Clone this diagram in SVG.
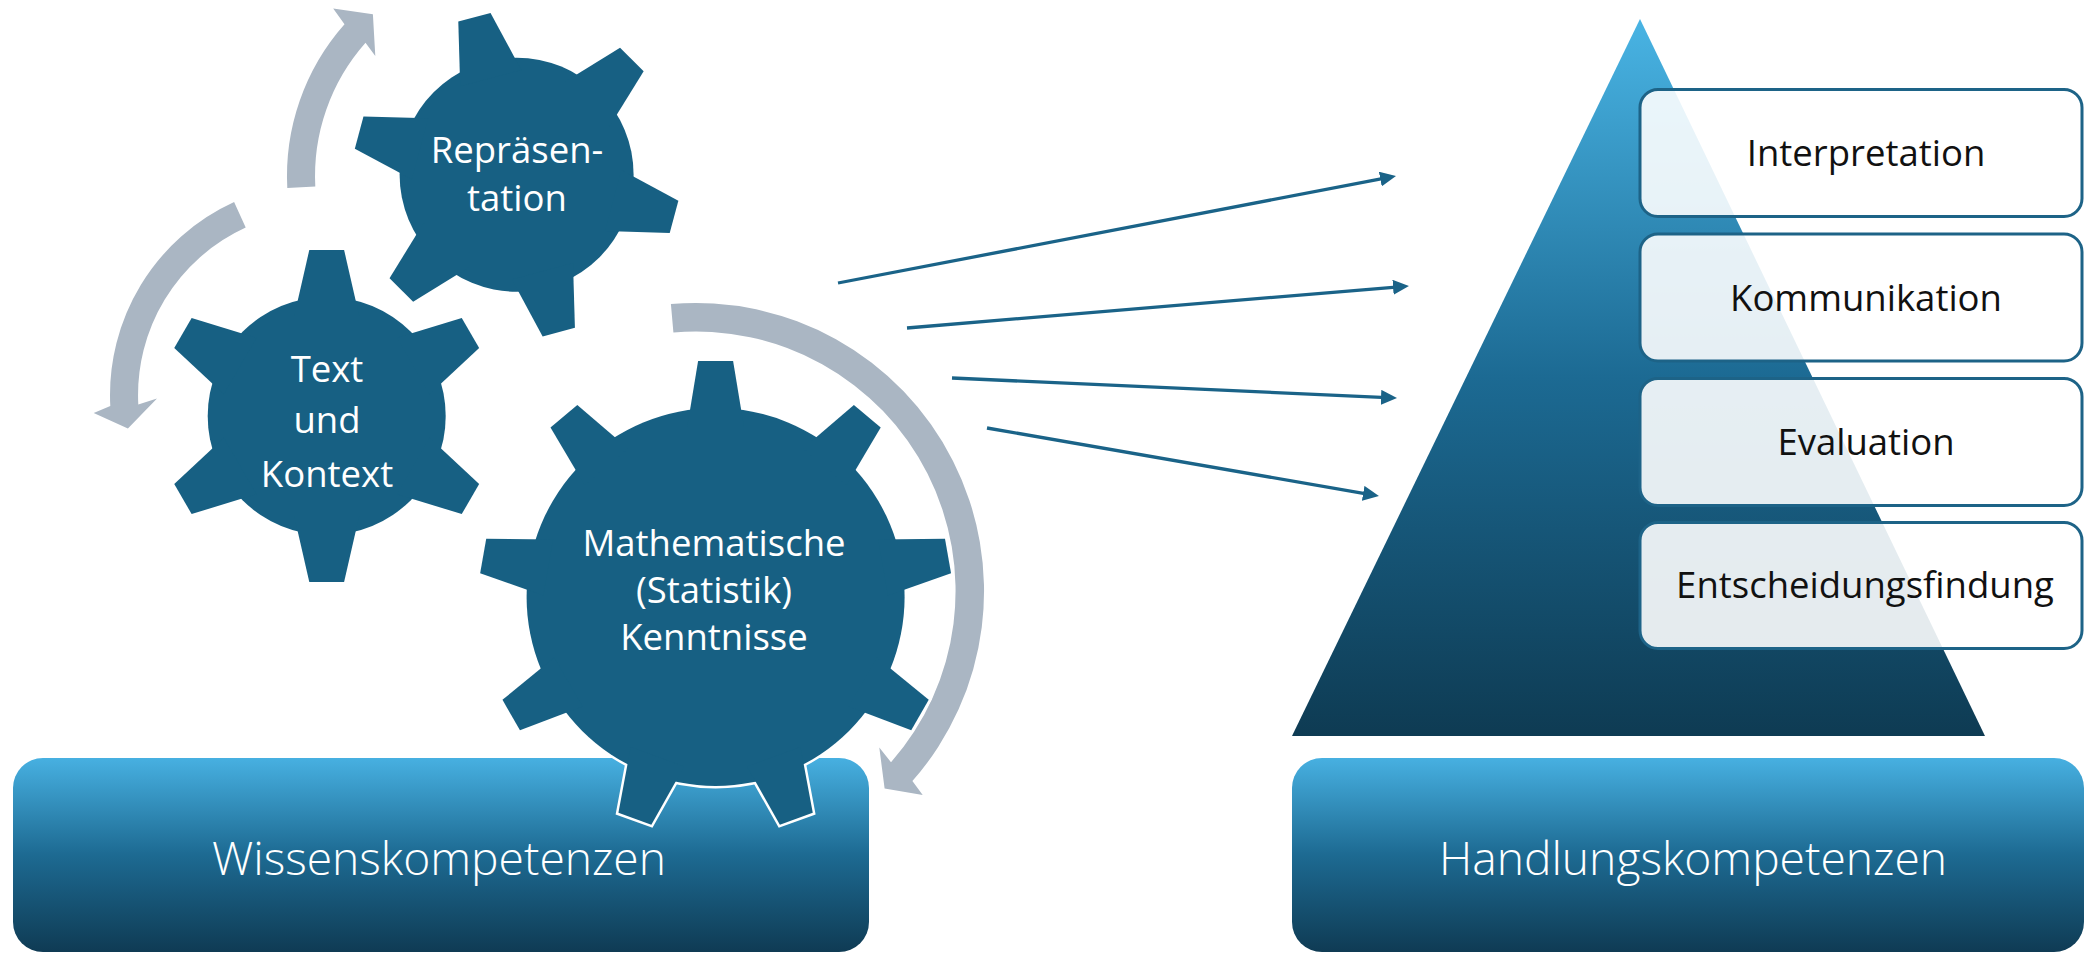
<svg xmlns="http://www.w3.org/2000/svg" width="2085" height="954" viewBox="0 0 2085 954">
<style>
.gt{font-family:"Open Sans","Liberation Sans",sans-serif;font-size:36.5px;fill:#ffffff;text-anchor:middle}
.lt{font-family:"Open Sans","Liberation Sans",sans-serif;font-size:36.5px;fill:#111111;text-anchor:middle}
.bt{font-family:"Open Sans","Liberation Sans",sans-serif;font-size:46.2px;font-weight:300;fill:#ffffff;text-anchor:middle}
.lbox{fill:#ffffff;fill-opacity:0.89;stroke:#1d6387;stroke-width:3}
.garrow{fill:#aab6c3}
.sline{stroke:#1a6388;stroke-width:3.3;fill:none}
</style>
<defs>
<linearGradient id="gBox" x1="0" y1="0" x2="0" y2="1">
<stop offset="0" stop-color="#47b0e1"/>
<stop offset="0.5" stop-color="#1d6a92"/>
<stop offset="1" stop-color="#0f3b54"/>
</linearGradient>
<linearGradient id="gPyr" x1="0" y1="0" x2="0" y2="1">
<stop offset="0" stop-color="#49b4e4"/>
<stop offset="0.5" stop-color="#1c6a93"/>
<stop offset="1" stop-color="#0e3b53"/>
</linearGradient>
<marker id="ah" markerUnits="userSpaceOnUse" markerWidth="16" markerHeight="15" refX="6" refY="7.5" orient="auto">
<path d="M0,0 L16,7.5 L0,15 z" fill="#1a6388"/>
</marker>
<g id="gs1">
<circle r="117"/>
<polygon points="-16.7,-163 16.7,-163 31.6,-100 -31.6,-100" transform="rotate(-15)"/>
<polygon points="-16.7,-163 16.7,-163 31.6,-100 -31.6,-100" transform="rotate(45)"/>
<polygon points="-16.7,-163 16.7,-163 31.6,-100 -31.6,-100" transform="rotate(105)"/>
<polygon points="-16.7,-163 16.7,-163 31.6,-100 -31.6,-100" transform="rotate(165)"/>
<polygon points="-16.7,-163 16.7,-163 31.6,-100 -31.6,-100" transform="rotate(225)"/>
<polygon points="-16.7,-163 16.7,-163 31.6,-100 -31.6,-100" transform="rotate(285)"/>
</g>
<g id="gs2">
<circle r="119"/>
<polygon points="-17.4,-166 17.4,-166 32.5,-100 -32.5,-100"/>
<polygon points="-17.4,-166 17.4,-166 32.5,-100 -32.5,-100" transform="rotate(60)"/>
<polygon points="-17.4,-166 17.4,-166 32.5,-100 -32.5,-100" transform="rotate(120)"/>
<polygon points="-17.4,-166 17.4,-166 32.5,-100 -32.5,-100" transform="rotate(180)"/>
<polygon points="-17.4,-166 17.4,-166 32.5,-100 -32.5,-100" transform="rotate(240)"/>
<polygon points="-17.4,-166 17.4,-166 32.5,-100 -32.5,-100" transform="rotate(300)"/>
</g>
<g id="gs3">
<circle r="189"/>
<polygon points="-17.5,-236 17.5,-236 28.4,-170 -28.4,-170"/>
<polygon points="-17.5,-236 17.5,-236 28.4,-170 -28.4,-170" transform="rotate(40)"/>
<polygon points="-17.5,-236 17.5,-236 28.4,-170 -28.4,-170" transform="rotate(80)"/>
<polygon points="-17.5,-236 17.5,-236 28.4,-170 -28.4,-170" transform="rotate(120)"/>
<polygon points="-17.5,-236 17.5,-236 28.4,-170 -28.4,-170" transform="rotate(160)"/>
<polygon points="-17.5,-236 17.5,-236 28.4,-170 -28.4,-170" transform="rotate(200)"/>
<polygon points="-17.5,-236 17.5,-236 28.4,-170 -28.4,-170" transform="rotate(240)"/>
<polygon points="-17.5,-236 17.5,-236 28.4,-170 -28.4,-170" transform="rotate(280)"/>
<polygon points="-17.5,-236 17.5,-236 28.4,-170 -28.4,-170" transform="rotate(320)"/>
</g>
</defs>

<g id="pyramid">
<polygon points="1640,19 1985,736 1292,736" fill="url(#gPyr)"/>
</g>
<g id="interpretation">
<rect class="lbox" x="1640" y="89.5" width="442" height="127" rx="18"/>
<text class="lt" x="1866" y="166">Interpretation</text>
</g>
<g id="kommunikation">
<rect class="lbox" x="1640" y="234" width="442" height="127" rx="18"/>
<text class="lt" x="1866" y="311">Kommunikation</text>
</g>
<g id="evaluation">
<rect class="lbox" x="1640" y="378.5" width="442" height="127" rx="18"/>
<text class="lt" x="1866" y="455">Evaluation</text>
</g>
<g id="entscheidungsfindung">
<rect class="lbox" x="1640" y="522.5" width="442" height="126" rx="18"/>
<text class="lt" x="1865" y="598">Entscheidungsfindung</text>
</g>

<g id="wissenskompetenzen">
<rect x="13" y="758" width="856" height="194" rx="30" fill="url(#gBox)"/>
<text class="bt" x="439" y="875">Wissenskompetenzen</text>
</g>
<g id="handlungskompetenzen">
<rect x="1292" y="758" width="792" height="194" rx="30" fill="url(#gBox)"/>
<text class="bt" x="1693" y="875">Handlungskompetenzen</text>
</g>

<g id="connectors">
<line class="sline" x1="838" y1="283" x2="1386.2" y2="177.9" marker-end="url(#ah)"/>
<line class="sline" x1="907" y1="328" x2="1399.0" y2="286.8" marker-end="url(#ah)"/>
<line class="sline" x1="952" y1="378" x2="1387.0" y2="397.6" marker-end="url(#ah)"/>
<line class="sline" x1="987" y1="428" x2="1369.1" y2="494.3" marker-end="url(#ah)"/>
<path class="garrow" d="M287.3,188.0 A229,229 0 0 1 344.5,24.3 L333.2,8.5 L372.9,14.2 L375.3,55.9 L365.5,42.8 A201,201 0 0 0 315.3,186.5 Z"/>
<path class="garrow" d="M234.1,202.1 A212,212 0 0 0 110.3,406.1 L93.7,413.0 L127.9,428.5 L157.0,398.5 L138.3,404.6 A184,184 0 0 1 245.7,227.6 Z"/>
<path class="garrow" d="M670.9,304.1 A288,288 0 0 1 912.4,781.1 L922.7,795.1 L884.6,788.4 L879.3,747.5 L891.0,762.3 A259.5,259.5 0 0 0 673.4,332.5 Z"/>
</g>

<g id="gear-repraesentation">
<use href="#gs1" x="516.6" y="174.7" fill="#176083" stroke="#ffffff" stroke-width="5"/>
<use href="#gs1" x="516.6" y="174.7" fill="#176083"/>
<text class="gt" x="517" y="163.3">Repräsen-</text>
<text class="gt" x="517" y="211">tation</text>
</g>
<g id="gear-text-kontext">
<use href="#gs2" x="326.7" y="416" fill="#176083" stroke="#ffffff" stroke-width="5"/>
<use href="#gs2" x="326.7" y="416" fill="#176083"/>
<text class="gt" x="327" y="382.3">Text</text>
<text class="gt" x="327" y="433">und</text>
<text class="gt" x="327" y="486.7">Kontext</text>
</g>
<g id="gear-mathematik">
<use href="#gs3" x="715.6" y="597" fill="#176083" stroke="#ffffff" stroke-width="5"/>
<use href="#gs3" x="715.6" y="597" fill="#176083"/>
<text class="gt" x="714" y="556">Mathematische</text>
<text class="gt" x="714" y="603">(Statistik)</text>
<text class="gt" x="714" y="650">Kenntnisse</text>
</g>
</svg>
